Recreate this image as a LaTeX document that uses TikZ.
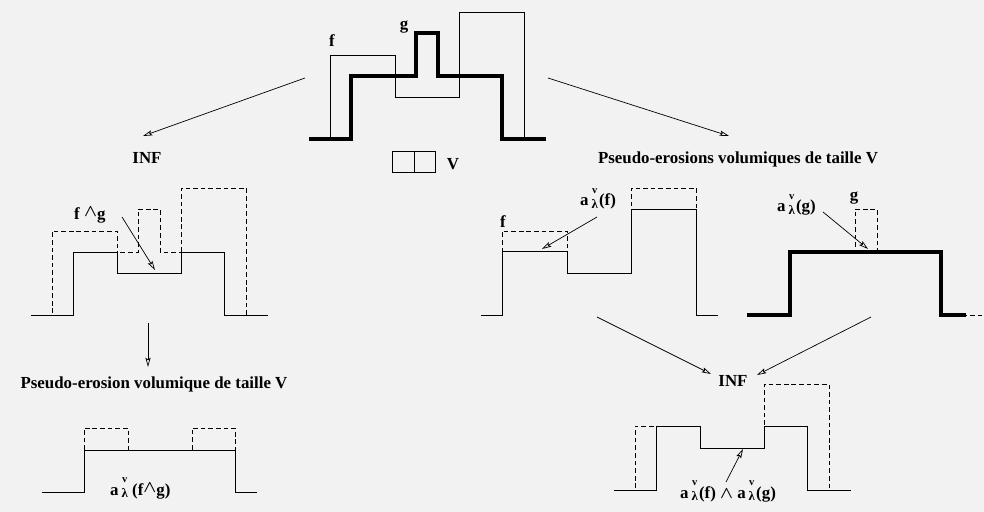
\documentclass[tikz,border=0pt]{standalone}
\usepackage{fontspec}
\setmainfont{Liberation Serif}
\usepackage{bm}
\usetikzlibrary{arrows.meta}

\definecolor{paper}{RGB}{242,242,242}

% a with v over lambda
\newcommand{\avl}{a\kern2.5pt\ooalign{\hfil\raisebox{10.5pt}{\fontsize{9}{9}\selectfont v}\hfil\cr
  \raisebox{-2pt}{\fontsize{11}{11}\selectfont λ}\cr}}
\newcommand{\wdg}{$\bm{\wedge}$}

% the two functions and their transforms (drawn in top-panel coordinates)
\newcommand{\fshape}{(309,139) -- (330,139) -- (330,55) -- (395,55) -- (395,97) -- (459,97)
  -- (459,12) -- (524,12) -- (524,139) -- (546,139)}
\newcommand{\gshape}{(309,139) -- (351,139) -- (351,76) -- (416,76) -- (416,33) -- (438,33)
  -- (438,76) -- (502,76) -- (502,139) -- (546,139)}
\newcommand{\infshape}{(309,139) -- (351,139) -- (351,76) -- (395,76) -- (395,97) -- (459,97)
  -- (459,76) -- (502,76) -- (502,139) -- (546,139)}
\newcommand{\efshape}{(309,139) -- (330,139) -- (330,75) -- (395,75) -- (395,97) -- (459,97)
  -- (459,33) -- (524,33) -- (524,139) -- (546,139)}

\begin{document}
\begin{tikzpicture}[x=0.03cm, y=-0.03cm,
  fn/.style={line width=0.7pt},
  fnthick/.style={line width=2.6pt},
  fndash/.style={line width=0.7pt, dash pattern=on 4pt off 2.5pt},
  lbl/.style={font=\bfseries\fontsize{14.4}{17}\selectfont, inner sep=0pt},
  arr/.style={-{Stealth[open, length=8pt, width=4.5pt, inset=1.5pt]}, line width=0.6pt},
]
  \fill[paper] (0,0) rectangle (984,512);
  \useasboundingbox (0,0) rectangle (984,512);

  % f and g
  \draw[fn] \fshape;
  \draw[fnthick] \gshape;
  \node[lbl, anchor=base] (f-top) at (332,47) {f};
  \node[lbl, anchor=base] (g-top) at (404,30) {g};
  \draw[fn] (392,151) rectangle (435,172) (414,151) -- (414,172);
  \node[lbl, anchor=base] (v-top) at (453,170) {V};

  \coordinate (top-l) at (305,78);
  \coordinate (top-r) at (548,78);
  \coordinate (inf-l-in) at (143,136);
  \coordinate (ero-r-in) at (729,136);
  \node[lbl, anchor=base] (inf-l) at (147,164) {INF};
  \node[lbl, anchor=base] (ero-r) at (738,164) {Pseudo-erosions volumiques de taille V};
  \draw[arr] (top-l) -- (inf-l-in);
  \draw[arr] (top-r) -- (ero-r-in);

  % inf of f and g
  \begin{scope}[shift={(-278,176)}]
    \draw[fn] \infshape;
    \draw[fndash] \fshape;
    \draw[fndash] \gshape;
  \end{scope}
  \node[lbl, anchor=base west] (fg-lbl) at (74,219) {f \raisebox{2pt}{\wdg}g};
  \coordinate (fg-from) at (122,217);
  \coordinate (fg-tip) at (155,270);
  \draw[arr] (fg-from) -- (fg-tip);

  \coordinate (down-from) at (148,323);
  \coordinate (down-to) at (148,367);
  \node[lbl, anchor=base] (ero-l) at (154,388) {Pseudo-erosion volumique de taille V};
  \draw[arr] (down-from) -- (down-to);

  % erosion of the inf
  \begin{scope}[shift={(-267,353)}]
    \draw[fn] (309,139) -- (351,139) -- (351,97) -- (502,97) -- (502,139) -- (524,139);
    \draw[fndash] (351,97) -- (351,75) -- (395,75) -- (395,97) -- (459,97) -- (459,75)
      -- (502,75) -- (502,97);
  \end{scope}
  \node[lbl, anchor=base west] (efg-lbl) at (110,495) {\avl\ (f\raisebox{2pt}{\wdg}g)};

  % erosion of f
  \begin{scope}[shift={(172,176)}]
    \draw[fn] \efshape;
    \draw[fndash] \fshape;
  \end{scope}
  \node[lbl, anchor=base] (f-mid) at (503,227) {f};
  \node[lbl, anchor=base west] (ef-lbl) at (580,206) {\avl\kern1pt(f)};
  \coordinate (ef-from) at (597,217);
  \coordinate (ef-tip) at (542,249);
  \draw[arr] (ef-from) -- (ef-tip);

  % erosion of g
  \begin{scope}[shift={(439,176)}]
    \draw[fndash] \gshape;
    \draw[fnthick] (308,139) -- (351,139) -- (351,76) -- (502,76) -- (502,139) -- (527,139);
  \end{scope}
  \node[lbl, anchor=base] (g-mid) at (854,201) {g};
  \node[lbl, anchor=base west] (eg-lbl) at (777,212) {\avl\kern1pt(g)};
  \coordinate (eg-from) at (823,212);
  \coordinate (eg-tip) at (868,249);
  \draw[arr] (eg-from) -- (eg-tip);

  % inf of the two erosions
  \coordinate (ef-out) at (597,317);
  \coordinate (eg-out) at (871,317);
  \coordinate (inf-r-l) at (711,374);
  \coordinate (inf-r-r) at (757,375);
  \node[lbl, anchor=base] (inf-r) at (733,386) {INF};
  \draw[arr] (ef-out) -- (inf-r-l);
  \draw[arr] (eg-out) -- (inf-r-r);

  \begin{scope}[shift={(305,351)}]
    \draw[fn] (309,139) -- (351,139) -- (351,75) -- (395,75) -- (395,97) -- (459,97)
      -- (459,75) -- (502,75) -- (502,139) -- (546,139);
    \draw[fndash] \efshape;
  \end{scope}
  \node[lbl, anchor=base west] (inf-lbl) at (680,498) {\avl\kern1pt(f) \wdg\ \avl\kern1pt(g)};
  \coordinate (inf-from) at (726,482);
  \coordinate (inf-tip) at (743,449);
  \draw[arr] (inf-from) -- (inf-tip);
\end{tikzpicture}
\end{document}
